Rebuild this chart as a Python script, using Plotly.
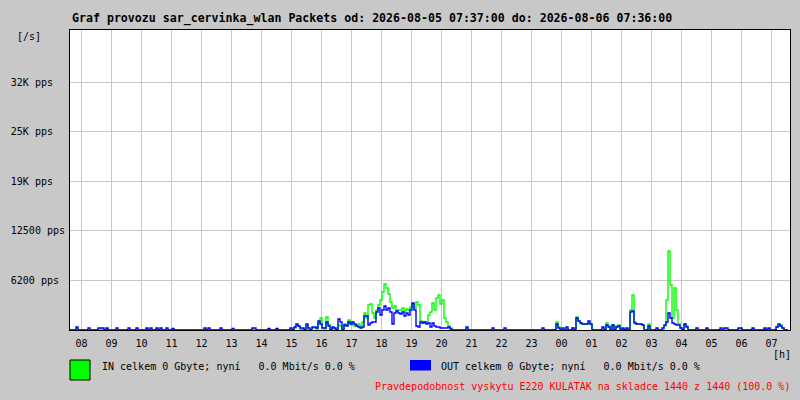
import pandas as pd
import plotly.graph_objects as go

# vzorky po 4 minutach od 07:37, jeden radek = 1 hodina (15 vzorku), hodnoty v pps
zacatek = "2026-08-05 07:37:00"
konec = "2026-08-06 07:37:00"

in_pps = [
    0, 0, 0, 125, 0, 0, 0, 0, 0, 0, 0, 0, 0, 0, 120,
    120, 0, 0, 120, 0, 0, 0, 0, 0, 0, 0, 0, 0, 0, 0,
    0, 0, 0, 0, 0, 0, 0, 0, 120, 0, 0, 0, 0, 120, 0,
    0, 0, 0, 0, 0, 0, 0, 0, 0, 0, 0, 0, 0, 0, 0,
    0, 0, 0, 0, 0, 0, 0, 120, 0, 0, 0, 0, 0, 0, 0,
    0, 0, 0, 0, 0, 0, 0, 0, 0, 0, 0, 0, 0, 0, 0,
    0, 120, 0, 0, 0, 0, 0, 0, 0, 0, 0, 0, 0, 0, 0,
    0, 0, 0, 0, 0, 0, 0, 250, 625, 500, 0, 120, 0, 500, 0,
    0, 250, 250, 120, 900, 1500, 250, 120, 1625, 700, 0, 250, 120, 0, 625,
    500, 0, 750, 625, 1250, 1000, 625, 500, 625, 750, 500, 1000, 2125, 1500, 3125,
    3250, 2125, 1500, 2500, 3125, 3750, 4750, 5750, 5250, 4500, 3500, 2750, 3000, 2500, 2500,
    2500, 2750, 2375, 2625, 2500, 2875, 3250, 2750, 3500, 3125, 1125, 1000, 875, 1000, 1875,
    2250, 3375, 2500, 4000, 4375, 3250, 3750, 1500, 1000, 500, 250, 0, 0, 0, 0,
    0, 0, 0, 125, 0, 0, 0, 0, 0, 0, 0, 0, 0, 0, 0,
    0, 0, 0, 0, 0, 0, 0, 0, 0, 0, 0, 0, 0, 0, 0,
    0, 0, 0, 0, 0, 0, 0, 0, 0, 0, 0, 0, 0, 0, 0,
    0, 0, 0, 1000, 375, 0, 0, 0, 120, 0, 0, 250, 0, 1625, 1125,
    875, 750, 750, 750, 875, 750, 0, 0, 0, 0, 0, 120, 0, 875, 500,
    0, 625, 0, 500, 625, 0, 120, 0, 120, 0, 2500, 4375, 1000, 750, 750,
    750, 625, 0, 0, 750, 0, 0, 0, 0, 0, 0, 0, 500, 3750, 9875,
    5625, 1500, 5250, 2500, 750, 250, 0, 750, 500, 0, 0, 0, 0, 0, 0,
    0, 0, 0, 120, 0, 0, 0, 0, 0, 0, 0, 0, 120, 0, 0,
    0, 0, 0, 0, 120, 120, 0, 0, 0, 0, 0, 120, 0, 0, 0,
    0, 0, 120, 0, 120, 0, 0, 0, 375, 500, 625, 250, 0, 0, 0,
]

out_pps = [
    0, 0, 0, 375, 0, 0, 0, 0, 0, 250, 0, 0, 0, 0, 250,
    250, 250, 0, 250, 0, 0, 0, 0, 250, 0, 0, 0, 0, 0, 250,
    0, 0, 0, 250, 0, 0, 0, 0, 250, 0, 250, 0, 0, 250, 0,
    250, 0, 0, 250, 0, 0, 190, 0, 0, 0, 0, 0, 0, 0, 0,
    0, 0, 0, 0, 0, 0, 0, 250, 0, 250, 0, 0, 0, 0, 0,
    250, 0, 0, 0, 0, 0, 190, 0, 0, 0, 0, 0, 0, 0, 0,
    0, 250, 250, 0, 0, 0, 0, 0, 0, 190, 0, 0, 0, 190, 0,
    0, 0, 0, 0, 0, 250, 0, 375, 750, 500, 250, 250, 0, 750, 250,
    0, 375, 375, 250, 1125, 750, 250, 250, 1000, 500, 0, 375, 250, 0, 1375,
    1000, 0, 625, 500, 1000, 750, 1000, 750, 500, 375, 250, 375, 1750, 1750, 625,
    875, 1000, 1000, 2250, 2750, 1875, 2500, 3000, 2500, 2750, 2250, 750, 2125, 2375, 2125,
    2000, 2250, 1750, 2125, 1875, 2500, 3375, 2500, 500, 375, 1000, 875, 1000, 750, 875,
    375, 875, 500, 375, 375, 250, 250, 250, 250, 375, 125, 0, 0, 0, 0,
    0, 0, 0, 375, 0, 0, 0, 0, 0, 0, 0, 0, 0, 0, 0,
    0, 250, 0, 0, 0, 0, 0, 250, 0, 0, 0, 0, 0, 0, 0,
    0, 0, 0, 0, 0, 0, 0, 0, 0, 0, 0, 250, 0, 0, 0,
    0, 0, 0, 750, 250, 0, 250, 0, 375, 0, 0, 250, 0, 1500, 1125,
    875, 750, 750, 750, 1125, 750, 0, 0, 0, 0, 0, 375, 0, 625, 375,
    0, 625, 0, 375, 500, 0, 250, 0, 250, 0, 2250, 2375, 875, 750, 750,
    750, 625, 0, 0, 500, 0, 0, 0, 250, 0, 0, 250, 625, 1000, 2125,
    1500, 875, 750, 625, 625, 250, 0, 750, 375, 0, 0, 0, 0, 250, 0,
    0, 0, 0, 250, 0, 0, 0, 0, 0, 0, 250, 0, 250, 250, 0,
    0, 0, 0, 0, 250, 250, 0, 0, 0, 0, 0, 250, 0, 0, 0,
    0, 0, 250, 0, 250, 0, 0, 0, 375, 750, 500, 250, 0, 0, 0,
]

y_ticks = [6200, 12400, 18600, 24800, 31000]
y_labels = ["6200 pps", "12500 pps", "19K pps", "25K pps", "32K pps"]

cas = pd.date_range(zacatek, periods=len(in_pps), freq="4min")

NB = "\u00a0"
font = "DejaVu Sans Mono"
seda = "#c8c8c8"

fig = go.Figure()
fig.add_trace(go.Scatter(x=cas, y=in_pps, mode="lines", line=dict(color="#00ff00", width=1.4, shape="hv"),
                         name="IN", showlegend=False))
fig.add_trace(go.Scatter(x=cas, y=out_pps, mode="lines", line=dict(color="#0000ff", width=1.4, shape="hv"),
                         name="OUT", showlegend=False))

# zarovnani popisku osy y vlevo (doplneni na stejnou delku)
sirka = max(len(s) for s in y_labels)
y_text = [s + NB * (sirka - len(s)) for s in y_labels]

fig.update_layout(
    width=800, height=400, autosize=False,
    margin=dict(l=70, r=10, t=30, b=70),
    paper_bgcolor=seda, plot_bgcolor="white",
    font=dict(family=font, size=10, color="black"),
    xaxis=dict(type="date", range=[zacatek, konec], tick0="2026-08-05 08:00:00", dtick=3600000,
               tickformat="%H", showgrid=True, gridcolor=seda, gridwidth=1,
               showline=True, linecolor="black", linewidth=1, mirror=True,
               ticks="", ticklabelstandoff=4, layer="above traces", zeroline=False, fixedrange=True),
    yaxis=dict(range=[0, 37500], tickvals=y_ticks, ticktext=y_text,
               showgrid=True, gridcolor=seda, gridwidth=1,
               showline=True, linecolor="black", linewidth=1, mirror=True,
               ticks="outside", ticklen=2, tickcolor=seda,
               layer="above traces", zeroline=False, fixedrange=True),
)

fig.add_annotation(text="<b>Graf provozu sar_cervinka_wlan Packets od: 2026-08-05 07:37:00 do: 2026-08-06 07:36:00</b>",
                   xref="paper", yref="paper", x=0, y=1.037, xanchor="left", yanchor="middle",
                   showarrow=False, font=dict(family=font, size=11.6))
fig.add_annotation(text="[/s]", xref="paper", yref="paper", x=-0.076, y=0.977,
                   xanchor="left", yanchor="middle", showarrow=False)
fig.add_annotation(text="[h]", xref="paper", yref="paper", x=0.974, y=-0.08,
                   xanchor="left", yanchor="middle", showarrow=False)

# legenda
fig.add_shape(type="rect", xref="paper", yref="paper", x0=0, x1=0.0278, y0=-0.1, y1=-0.1667,
              fillcolor="#00ff00", line=dict(color="black", width=1))
fig.add_shape(type="rect", xref="paper", yref="paper", x0=0.4722, x1=0.5014, y0=-0.1, y1=-0.135,
              fillcolor="#0000ff", line=dict(width=0))
fig.add_annotation(text="IN celkem 0 Gbyte; nyní" + NB * 3 + "0.0 Mbit/s 0.0 %",
                   xref="paper", yref="paper", x=0.0417, y=-0.1223, xanchor="left", yanchor="middle",
                   showarrow=False)
fig.add_annotation(text="OUT celkem 0 Gbyte; nyní" + NB * 3 + "0.0 Mbit/s 0.0 %",
                   xref="paper", yref="paper", x=0.513, y=-0.1223, xanchor="left", yanchor="middle",
                   showarrow=False)
fig.add_annotation(text="Pravdepodobnost vyskytu E220 KULATAK na skladce 1440 z 1440 (100.0 %)",
                   xref="paper", yref="paper", x=1.003, y=-0.189, xanchor="right", yanchor="middle",
                   showarrow=False, font=dict(color="red"))

fig.write_html("out.html", config={"displayModeBar": False},
               post_script="document.body.style.margin='0';")
